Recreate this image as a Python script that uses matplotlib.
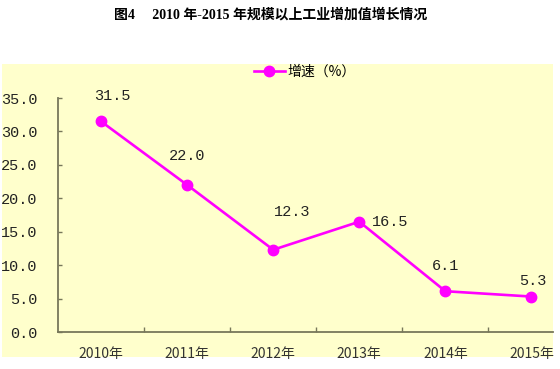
import matplotlib
matplotlib.use("Agg")
import matplotlib.pyplot as plt
from matplotlib.patches import Rectangle

# data
years = ["2010年", "2011年", "2012年", "2013年", "2014年", "2015年"]
growth = [31.5, 22.0, 12.3, 16.5, 6.1, 5.3]
yticks = [0, 5, 10, 15, 20, 25, 30, 35]

# label offsets (points) for each data label
label_dx = [8, 0, 14, 22, 0, 1]
label_dy = [18, 21, 27, 0, 18, 11]

CJK = ["Noto Sans CJK SC", "DejaVu Sans"]
SERIF = ["Liberation Serif", "Noto Sans CJK SC"]
MONO = ["Liberation Mono", "DejaVu Sans Mono"]
AXCOL = "#77775a"
MAG = "#ff00ff"

fig = plt.figure(figsize=(5.6, 3.69), dpi=100)
W, H = 560.0, 369.0

# yellow panel behind the chart
fig.patches.append(Rectangle((2 / W, 1 - 357 / H), 551 / W, 293 / H,
                             transform=fig.transFigure, facecolor="#ffffcc",
                             edgecolor="none", zorder=-10))

fig.text(271 / W, 1 - 15 / H, "图4\u3000 2010 年-2015 年规模以上工业增加值增长情况",
         ha="center", va="center", fontsize=10, fontweight="bold", family=SERIF)

ax = fig.add_axes([58 / W, 1 - 332 / H, 495 / W, 234 / H])
ax.set_facecolor("none")
ax.set_zorder(1)

x = list(range(len(years)))
ax.plot(x, growth, color=MAG, lw=1.9, marker="o", ms=7.5, label="增速（%）",
        clip_on=False, zorder=3)

for i, v in enumerate(growth):
    ax.annotate("%.1f" % v, (x[i], v), xytext=(label_dx[i], label_dy[i]),
                textcoords="offset points", ha="center", va="center",
                fontsize=11, family=MONO, color="#222222")

ax.set_xlim(-0.5, 5.25)
ax.set_ylim(0, 35)

for s in ["top", "right"]:
    ax.spines[s].set_visible(False)
for s in ["left", "bottom"]:
    ax.spines[s].set_color(AXCOL)
    ax.spines[s].set_linewidth(1.3)

ax.set_yticks(yticks)
ax.set_yticklabels(["%.1f" % t for t in yticks], family=MONO, fontsize=11,
                   color="#222222")
ax.tick_params(axis="y", direction="in", length=3, width=1, color=AXCOL, pad=15)

ax.set_xticks(x)
ax.set_xticklabels(years, family=CJK, fontsize=10, color="#333333")
ax.set_xticks([i + 0.5 for i in range(len(years) - 1)], minor=True)
ax.tick_params(axis="x", which="major", length=0, pad=11)
ax.tick_params(axis="x", which="minor", direction="in", length=3.5, width=1,
               color=AXCOL)

leg = fig.legend(handles=ax.get_lines(), loc="center", bbox_to_anchor=(305 / W, 1 - 72 / H),
                 frameon=False, prop={"family": CJK, "size": 10},
                 handlelength=2.2, handletextpad=0.2, borderpad=0)
leg.set_zorder(2)

fig.savefig("out.png", dpi=100)
